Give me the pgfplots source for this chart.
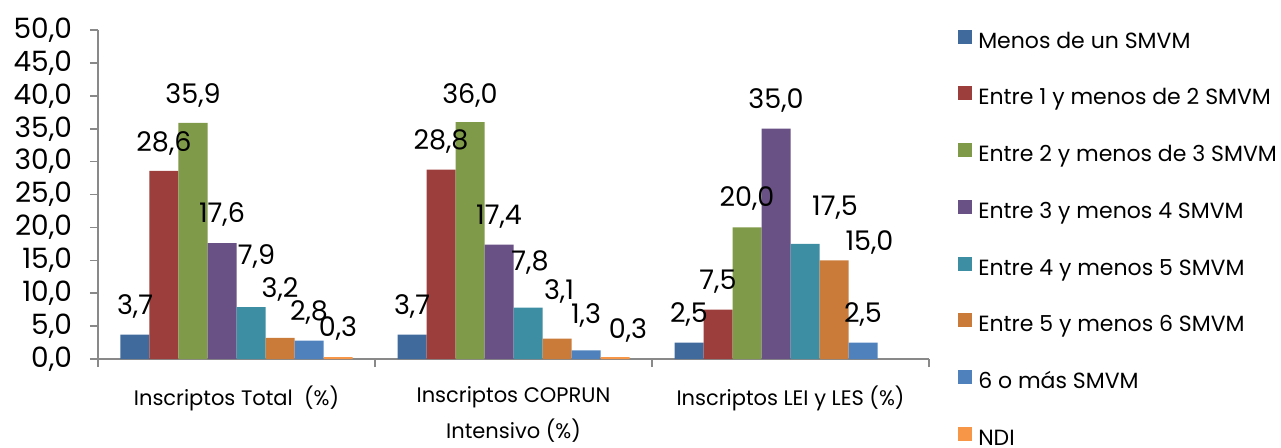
\documentclass[border=0pt]{standalone}
\usepackage{pgfplots}
\pgfplotsset{compat=1.18}
\usepackage{fontspec}
\setmainfont{Poppins}

\definecolor{c1}{HTML}{3F6A9B}
\definecolor{c2}{HTML}{9C3E3C}
\definecolor{c3}{HTML}{7F9A48}
\definecolor{c4}{HTML}{695185}
\definecolor{c5}{HTML}{3D8DA3}
\definecolor{c6}{HTML}{CB7B39}
\definecolor{c7}{HTML}{4F81BD}
\definecolor{c8}{HTML}{F79646}
\definecolor{axisgray}{HTML}{898989}

\pgfplotsset{sqleg/.style={legend image code/.code={\fill[##1] (0pt,-0.5pt) rectangle (7pt,6.5pt);}}}

% x = grupo, y = valor, dx/dy = desplazamiento de la etiqueta (pt)
\pgfplotstableread{
x y dx dy
0 3.7 0 10
1 3.7 0 10
2 2.5 0 10
}\sA
\pgfplotstableread{
x y dx dy
0 28.6 0 9.5
1 28.8 0 10
2 7.5 0 10
}\sB
\pgfplotstableread{
x y dx dy
0 35.9 0 9.5
1 36.0 0 9.2
2 20.0 0 10.3
}\sC
\pgfplotstableread{
x y dx dy
0 17.6 0 10
1 17.4 0 9.75
2 35.0 0 10
}\sD
\pgfplotstableread{
x y dx dy
0 7.9 2.75 21
1 7.8 1 18.5
2 17.5 15 14
}\sE
\pgfplotstableread{
x y dx dy
0 3.2 0 20
1 3.1 1 19.3
2 15.0 17.75 4.7
}\sF
\pgfplotstableread{
x y dx dy
0 2.8 0 10
1 1.3 0 13.5
2 2.5 0 10
}\sG
\pgfplotstableread{
x y dx dy
0 0.3 0 10
1 0.3 6.5 9
}\sH

\begin{document}
\begin{tikzpicture}
\useasboundingbox (-49pt,-44pt) rectangle (591.5pt,179.5pt);
\begin{axis}[
    at={(0,0)}, anchor=south west,
    width=415.5pt, height=164.5pt, scale only axis,
    ybar=0pt, bar width=14.5pt,
    xmin=-0.5, xmax=2.5, ymin=0, ymax=50,
    ytick={0,5,...,50},
    xtick={-0.5,0.5,1.5,2.5}, xticklabels={},
    extra x ticks={0,1,2},
    extra x tick labels={{Inscriptos Total~~(\%)},{Inscriptos COPRUN\\Intensivo (\%)},{Inscriptos LEI y LES (\%)}},
    extra x tick style={major tick length=0pt},
    x tick label style={align=center, font=\fontsize{10.5}{18}\selectfont, yshift=-10pt},
    y tick label style={font=\fontsize{14}{16}\selectfont, xshift=-5.5pt},
    axis x line*=bottom, axis y line*=left,
    axis line style={draw=axisgray, line width=0.8pt, -},
    tick style={draw=axisgray, line width=0.8pt},
    tick align=outside, major tick length=4pt,
    /pgf/number format/fixed, /pgf/number format/fixed zerofill,
    /pgf/number format/precision=1, /pgf/number format/use comma,
    /pgf/number format/assume math mode=true,
    nodes near coords,
    visualization depends on={\thisrow{dx} \as \dx},
    visualization depends on={\thisrow{dy} \as \dy},
    every node near coord/.append style={anchor=south, inner sep=0pt, text depth=0pt,
        xshift=\dx pt, yshift=\dy pt, font=\fontsize{13.5}{16}\selectfont, text=black},
    legend style={at={(1.0349,1.002)}, anchor=north west, draw=none, fill=none, inner sep=0pt,
        row sep=16.1pt, font=\fontsize{11}{13}\selectfont,
        nodes={inner sep=0pt, text height=8.5pt, text depth=3pt}},
    legend cell align=left,
]
\addplot[fill=c1, draw=none, sqleg] table[x=x, y=y] {\sA};
\addlegendentry{\ Menos de un SMVM}
\addplot[fill=c2, draw=none, sqleg] table[x=x, y=y] {\sB};
\addlegendentry{\ Entre 1 y menos de 2 SMVM}
\addplot[fill=c3, draw=none, sqleg] table[x=x, y=y] {\sC};
\addlegendentry{\ Entre 2 y menos de 3 SMVM}
\addplot[fill=c4, draw=none, sqleg] table[x=x, y=y] {\sD};
\addlegendentry{\ Entre 3 y menos 4 SMVM}
\addplot[fill=c5, draw=none, sqleg] table[x=x, y=y] {\sE};
\addlegendentry{\ Entre 4 y menos 5 SMVM}
\addplot[fill=c6, draw=none, sqleg] table[x=x, y=y] {\sF};
\addlegendentry{\ Entre 5 y menos 6 SMVM}
\addplot[fill=c7, draw=none, sqleg] table[x=x, y=y] {\sG};
\addlegendentry{\ 6 o más SMVM}
\addplot[fill=c8, draw=none, sqleg] table[x=x, y=y] {\sH};
\addlegendentry{\ NDI}
\end{axis}
\end{tikzpicture}
\end{document}
